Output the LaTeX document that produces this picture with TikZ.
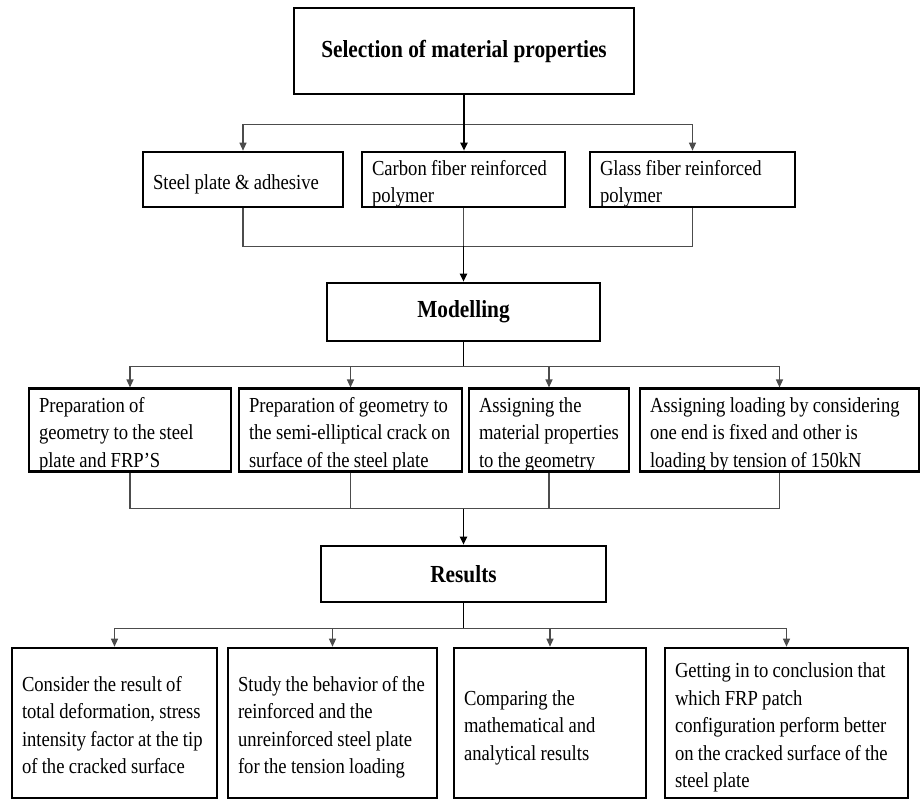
\documentclass[tikz,border=0pt]{standalone}
\usepackage{fontspec}
\setmainfont{Liberation Serif}[FakeStretch=0.87]
\usetikzlibrary{arrows.meta}
\usetikzlibrary{positioning}
\tikzset{flow/.style={x=1pt, y=-1pt},
cell/.style={draw, line width=2.6pt, inner xsep=10pt, inner ysep=0pt, align=left,
font=\fontsize{21.4}{27.5}\selectfont},
head/.style={draw, line width=2.6pt, inner sep=0pt, align=center,
font=\fontsize{24.5}{29}\selectfont\bfseries},
stem/.style={line width=1.8pt, black},
branch/.style={line width=1.2pt, black!70},
tip/.style={-{Triangle[length=8pt, width=7pt]}}}
\newcommand{\rows}[1]{\spaceskip=4.3pt plus 1pt minus 1pt\relax
\raisebox{-4pt}[\height][\depth]{\begin{tabular}{@{}l@{}}#1\end{tabular}}}

\begin{document}
\begin{tikzpicture}[flow]
\useasboundingbox (0,0) rectangle (924,800);
% material properties
\node[head, minimum width=340pt, minimum height=86pt] (select) at (464,51) {Selection of material properties};
\node[cell, text width=180pt, minimum height=55pt] (steel) at (243,179.5) {\rows{Steel plate \& adhesive}};
\node[cell, text width=183pt, minimum height=55pt] (carbon) at (463.5,179.5) {\rows{Carbon fiber reinforced\\polymer}};
\node[cell, text width=185pt, minimum height=55pt] (glass) at (692.5,179.5) {\rows{Glass fiber reinforced\\polymer}};
% modelling
\node[head, minimum width=273pt, minimum height=58pt] (model) at (463.5,312) {Modelling};
\node[cell, text width=182pt, minimum height=82pt] (geomplate) at (130,430) {\rows{Preparation of\\geometry to the steel\\plate and FRP’S}};
\node[cell, text width=203pt, minimum height=82pt] (geomcrack) at (350.5,430) {\rows{Preparation of geometry to\\the semi-elliptical crack on\\surface of the steel plate}};
\node[cell, text width=140pt, minimum height=82pt] (assignmat) at (549,430) {\rows{Assigning the\\material properties\\to the geometry}};
\node[cell, text width=259pt, minimum height=82pt] (assignload) at (779.5,430) {\rows{Assigning loading by considering\\one end is fixed and other is\\loading by tension of 150kN}};
% results
\node[head, minimum width=285pt, minimum height=56pt] (results) at (463.5,574) {Results};
\node[cell, text width=185pt, minimum height=150pt] (deform) at (114.5,723) {\rows{Consider the result of\\total deformation, stress\\intensity factor at the tip\\of the cracked surface}};
\node[cell, text width=189pt, minimum height=150pt] (behave) at (332.5,723) {\rows{Study the behavior of the\\reinforced and the\\unreinforced steel plate\\for the tension loading}};
\node[cell, text width=172pt, minimum height=150pt] (compare) at (550,723) {\rows{Comparing the\\mathematical and\\analytical results}};
\node[cell, text width=223pt, minimum height=150pt] (conclude) at (786.5,723) {\rows{Getting in to conclusion that\\which FRP patch\\configuration perform better\\on the cracked surface of the\\steel plate}};

% forks and joins
\path (select.south) ++(0,29) coordinate (fork1);
\draw[branch, tip] (fork1) -| (steel.north);
\draw[branch, tip] (fork1) -| (glass.north);
\draw[stem] (select.south) -- (fork1);
\draw[stem, tip] (fork1) -- (fork1 |- carbon.north);

\path (carbon.south) ++(0,38) coordinate (join1);
\draw[branch] (steel.south) |- (join1);
\draw[branch] (glass.south) |- (join1);
\draw[branch] (carbon.south) -- (carbon.south |- join1);
\draw[stem, tip] (join1) -- (join1 |- model.north);

\path (model.south) ++(0,24) coordinate (fork2);
\draw[branch, tip] (fork2) -| (geomplate.north);
\draw[branch, tip] (fork2) -| (geomcrack.north);
\draw[branch, tip] (fork2) -| (assignmat.north);
\draw[branch, tip] (fork2) -| (assignload.north);
\draw[stem] (model.south) -- (fork2);

\path (geomplate.south) ++(0,36) coordinate (join2);
\draw[branch] (geomplate.south) |- (join2 -| assignload.south);
\draw[branch] (geomcrack.south) -- (geomcrack.south |- join2);
\draw[branch] (assignmat.south) -- (assignmat.south |- join2);
\draw[branch] (assignload.south) -- (assignload.south |- join2);
\draw[stem, tip] (join2 -| model.south) -- (results.north);

\path (results.south) ++(0,25) coordinate (fork3);
\draw[branch, tip] (fork3) -| (deform.north);
\draw[branch, tip] (fork3) -| (behave.north);
\draw[branch, tip] (fork3) -| (compare.north);
\draw[branch, tip] (fork3) -| (conclude.north);
\draw[stem] (results.south) -- (fork3);
\end{tikzpicture}
\end{document}
